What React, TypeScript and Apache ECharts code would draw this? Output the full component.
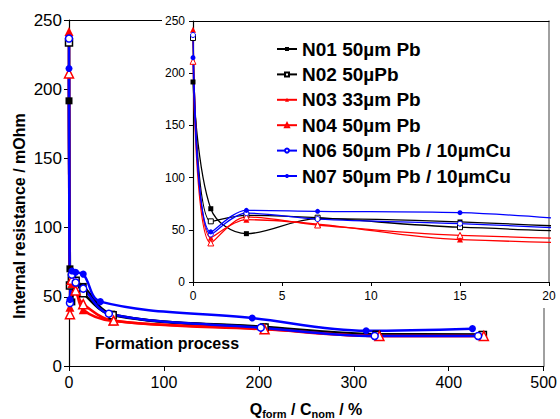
import React, { useEffect, useRef } from 'react';
import * as echarts from 'echarts';

const NAMES = ['N01 50µm Pb', 'N02 50µPb', 'N03 33µm Pb', 'N04 50µm Pb', 'N06 50µm Pb / 10µmCu', 'N07 50µm Pb / 10µmCu'];
const COLORS = ['#000000', '#000000', '#ff0000', '#ff0000', '#0000ff', '#0000ff'];
const SYMBOLS = ['rect', 'rect', 'triangle', 'triangle', 'circle', 'circle'];
const FILLED = [true, false, true, false, false, true];

// Q_form / C_nom (%) and internal resistance (mOhm) per cell
const X_N01 = [0, 1, 3, 7, 15, 45, 205, 324, 435];
const Y_N01 = [191.6, 70.2, 46.3, 60.7, 57.5, 37.5, 28.3, 23.0, 22.8];
const X_N02 = [0, 1, 3, 7, 15, 46, 206, 324, 436];
const Y_N02 = [233.7, 58.1, 63.9, 61.6, 52.5, 36.6, 27.8, 22.4, 22.4];
const X_N03 = [0, 1, 3, 7, 15, 46, 206, 327, 437];
const Y_N03 = [241.7, 42.5, 59.7, 55.5, 40.6, 32.5, 26.8, 21.6, 21.6];
const X_N04 = [0, 1, 3, 7, 15, 47, 206, 327, 437];
const Y_N04 = [211.4, 37.4, 62.3, 54.6, 44.7, 32.8, 26.5, 21.7, 21.7];
const X_N06 = [0, 1, 3, 7, 15, 42, 202, 322, 431];
const Y_N06 = [236.6, 45.5, 66.0, 60.3, 55.9, 37.8, 27.7, 21.7, 21.7];
const X_N07 = [0, 1, 3, 7, 15, 33, 193, 313, 425];
const Y_N07 = [214.9, 48.0, 68.6, 67.7, 66.4, 46.5, 34.7, 25.5, 27.0];

const XS = [X_N01, X_N02, X_N03, X_N04, X_N06, X_N07];
const YS = [Y_N01, Y_N02, Y_N03, Y_N04, Y_N06, Y_N07];

const FONT = 'Arial, "Liberation Sans", sans-serif';

function makeSeries(i: number, inset: boolean) {
  const col = COLORS[i];
  return {
    type: 'line',
    name: NAMES[i],
    xAxisIndex: inset ? 2 : 0,
    yAxisIndex: inset ? 2 : 0,
    data: XS[i].map((x, k) => [x, YS[i][k]]),
    smooth: 0.35,
    clip: true,
    z: inset ? 10 : 2,
    symbol: SYMBOLS[i],
    symbolSize: inset ? (SYMBOLS[i] === 'triangle' ? 6 : 5) : (SYMBOLS[i] === 'triangle' ? 9 : 7),
    showAllSymbol: true,
    lineStyle: { color: col, width: inset ? 1.3 : 2.5 },
    itemStyle: FILLED[i]
      ? { color: col, borderColor: col, borderWidth: 0 }
      : { color: '#ffffff', borderColor: col, borderWidth: inset ? 1 : 1.5 },
    emphasis: { disabled: true },
  };
}

export default function App() {
  const ref = useRef<HTMLDivElement>(null);
  useEffect(() => {
    if (!ref.current) return;
    const chart = echarts.init(ref.current, undefined, { renderer: 'svg' });
    const series: any[] = [];
    for (let i = 0; i < NAMES.length; i++) series.push(makeSeries(i, false));
    for (let i = 0; i < NAMES.length; i++) series.push(makeSeries(i, true));

    const blackLine = { show: true, onZero: false, lineStyle: { color: '#000', width: 1.2 } };
    const grayLine = { show: true, onZero: false, lineStyle: { color: '#808080', width: 1.5 } };

    chart.setOption({
      animation: false,
      backgroundColor: '#ffffff',
      textStyle: { fontFamily: FONT },
      grid: [
        { left: 69, right: 15, top: 20, bottom: 53 },
        { left: 193, right: 11, top: 21, bottom: 137, z: 10 },
      ],
      xAxis: [
        {
          type: 'value', gridIndex: 0, min: 0, max: 500, interval: 100,
          axisLine: blackLine,
          axisTick: { show: true, inside: false, length: 5, lineStyle: { color: '#000' } },
          axisLabel: { fontSize: 16, color: '#000', margin: 8, fontFamily: FONT },
          splitLine: { show: false },
        },
        {
          type: 'value', gridIndex: 0, position: 'top', min: 0, max: 1,
          axisLine: blackLine, axisTick: { show: false }, axisLabel: { show: false }, splitLine: { show: false },
        },
        {
          type: 'value', gridIndex: 1, min: 0, max: 20, interval: 5, z: 10,
          axisLine: blackLine,
          axisTick: { show: true, inside: false, length: 4, lineStyle: { color: '#000' } },
          axisLabel: { fontSize: 12, color: '#000', margin: 8, fontFamily: FONT },
          splitLine: { show: false },
        },
        {
          type: 'value', gridIndex: 1, position: 'top', min: 0, max: 1, z: 10,
          axisLine: blackLine, axisTick: { show: false }, axisLabel: { show: false }, splitLine: { show: false },
        },
      ],
      yAxis: [
        {
          type: 'value', gridIndex: 0, min: 0, max: 250, interval: 50,
          axisLine: blackLine,
          axisTick: { show: true, inside: false, length: 5, lineStyle: { color: '#000' } },
          axisLabel: { fontSize: 17, color: '#000', margin: 7, fontFamily: FONT },
          splitLine: { show: false },
        },
        {
          type: 'value', gridIndex: 0, position: 'right', min: 0, max: 1,
          axisLine: grayLine, axisTick: { show: false }, axisLabel: { show: false }, splitLine: { show: false },
        },
        {
          type: 'value', gridIndex: 1, min: 0, max: 250, interval: 50, z: 10,
          axisLine: blackLine,
          axisTick: { show: true, inside: false, length: 4, lineStyle: { color: '#000' } },
          axisLabel: { fontSize: 12, color: '#000', margin: 8, fontFamily: FONT },
          splitLine: { show: false },
        },
        {
          type: 'value', gridIndex: 1, position: 'right', min: 0, max: 1, z: 10,
          axisLine: grayLine, axisTick: { show: false }, axisLabel: { show: false }, splitLine: { show: false },
        },
      ],
      legend: {
        orient: 'vertical', left: 276, top: 39, z: 20,
        itemWidth: 20, itemHeight: 5, itemGap: 5.4, padding: 0,
        selectedMode: false,
        data: NAMES,
        textStyle: { fontSize: 19, fontWeight: 'bold', color: '#000', lineHeight: 20, fontFamily: FONT },
      },
      graphic: [
        { type: 'rect', z: 5, shape: { x: 162, y: 4, width: 396, height: 304 }, style: { fill: '#ffffff' }, silent: true },
        {
          type: 'text', z: 20, x: 95, y: 343,
          style: { text: 'Formation process', fontSize: 16, fontWeight: 'bold', fill: '#000', fontFamily: FONT, align: 'left', verticalAlign: 'middle' },
        },
        {
          type: 'text', z: 20, x: 19, y: 216, rotation: Math.PI / 2,
          style: { text: 'Internal resistance / mOhm', fontSize: 16, fontWeight: 'bold', fill: '#000', fontFamily: FONT, align: 'center', verticalAlign: 'middle' },
        },
        {
          type: 'text', z: 20, x: 306, y: 409,
          style: {
            text: '{a|Q}{b|form}{a| / C}{b|nom}{a| / %}',
            align: 'center', verticalAlign: 'middle', fill: '#000',
            rich: {
              a: { fontSize: 16, fontWeight: 'bold', fontFamily: FONT, fill: '#000' },
              b: { fontSize: 11, fontWeight: 'bold', fontFamily: FONT, fill: '#000', padding: [10, 0, 0, 0] },
            },
          },
        },
      ],
      series,
    });
    return () => chart.dispose();
  }, []);
  return <div ref={ref} style={{ position: 'fixed', left: 0, top: 0, width: 560, height: 419 }} />;
}
